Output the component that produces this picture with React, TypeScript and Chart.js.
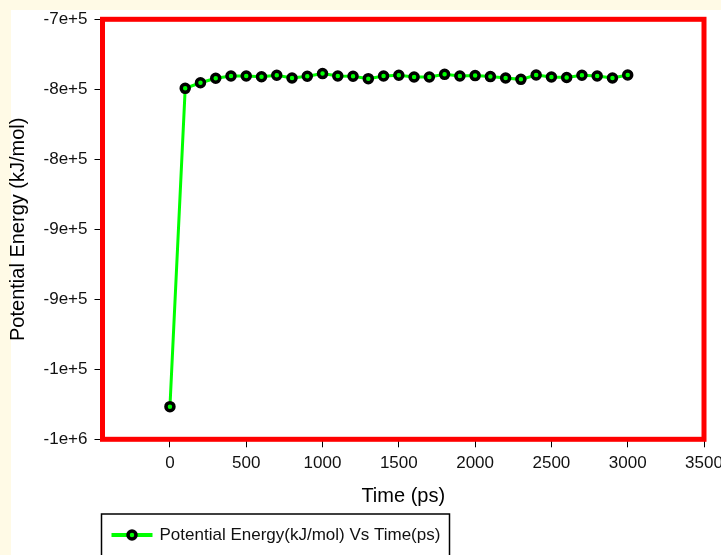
import React, { useEffect, useRef } from 'react';
import { Chart, registerables } from 'chart.js';

Chart.register(...registerables);

const timePs = [0, 100, 200, 300, 400, 500, 600, 700, 800, 900, 1000, 1100, 1200, 1300, 1400, 1500, 1600, 1700, 1800, 1900, 2000, 2100, 2200, 2300, 2400, 2500, 2600, 2700, 2800, 2900, 3000];
const potentialEnergy = [-976700, -749300, -745300, -742100, -740500, -740500, -741000, -740000, -741900, -740700, -738800, -740500, -740700, -742400, -740500, -740000, -741200, -741200, -739300, -740500, -740200, -740900, -741900, -742900, -739800, -741200, -741600, -740000, -740500, -741900, -739800];
const xTickValues = [0, 500, 1000, 1500, 2000, 2500, 3000, 3500];
const yTickValues = [-700000, -750000, -800000, -850000, -900000, -950000, -1000000];
const yTickLabels = ['-7e+5', '-8e+5', '-8e+5', '-9e+5', '-9e+5', '-1e+5', '-1e+6'];
const seriesLabel = 'Potential Energy(kJ/mol) Vs Time(ps)';
const xTitle = 'Time (ps)';
const yTitle = 'Potential Energy (kJ/mol)';

const FONT = "'Liberation Sans', Arial, sans-serif";
const GREEN = '#00FF00';

const decorPlugin = {
  id: 'decor',
  beforeDraw(chart: any) {
    const { ctx, width, height } = chart;
    ctx.save();
    ctx.fillStyle = '#FFFAE6';
    ctx.fillRect(0, 0, width, height);
    ctx.fillStyle = '#FFFFFF';
    ctx.fillRect(11, 10, width - 11, height - 10);
    ctx.restore();
  },
  beforeDatasetsDraw(chart: any) {
    const { ctx, chartArea } = chart;
    ctx.save();
    ctx.strokeStyle = '#FF0000';
    ctx.lineWidth = 5;
    ctx.strokeRect(chartArea.left, chartArea.top, chartArea.right - chartArea.left, chartArea.bottom - chartArea.top);
    ctx.restore();
  },
  afterDraw(chart: any) {
    const { ctx, chartArea } = chart;
    const bx = chartArea.left - 1;
    const by = 514;
    ctx.save();
    ctx.strokeStyle = '#000000';
    ctx.lineWidth = 1.5;
    ctx.strokeRect(bx, by, 348, 80);
    const cy = 535;
    ctx.strokeStyle = GREEN;
    ctx.lineWidth = 4;
    ctx.beginPath();
    ctx.moveTo(bx + 10, cy);
    ctx.lineTo(bx + 51, cy);
    ctx.stroke();
    ctx.beginPath();
    ctx.arc(bx + 30.5, cy, 4, 0, Math.PI * 2);
    ctx.fillStyle = GREEN;
    ctx.fill();
    ctx.strokeStyle = '#000000';
    ctx.lineWidth = 3.5;
    ctx.stroke();
    ctx.fillStyle = '#111111';
    ctx.font = `17px ${FONT}`;
    ctx.textBaseline = 'middle';
    ctx.textAlign = 'left';
    ctx.fillText(seriesLabel, bx + 58, cy);
    ctx.restore();
  },
};

export default function App() {
  const canvasRef = useRef<HTMLCanvasElement | null>(null);

  useEffect(() => {
    document.body.style.margin = '0';
    const canvas = canvasRef.current;
    if (!canvas) return;
    const chart = new Chart(canvas, {
      type: 'line',
      data: {
        datasets: [
          {
            label: seriesLabel,
            data: timePs.map((t, i) => ({ x: t, y: potentialEnergy[i] })),
            borderColor: GREEN,
            borderWidth: 3,
            backgroundColor: GREEN,
            pointBackgroundColor: GREEN,
            pointBorderColor: '#000000',
            pointBorderWidth: 3.5,
            pointRadius: 4,
            tension: 0,
          },
        ],
      },
      options: {
        animation: false,
        responsive: false,
        devicePixelRatio: 1,
        layout: { padding: { left: 0, top: 19.3, right: 17, bottom: 0 } },
        plugins: {
          legend: { display: false },
          tooltip: { enabled: false },
        },
        scales: {
          x: {
            type: 'linear',
            min: -442,
            max: 3500,
            afterBuildTicks: (scale: any) => {
              scale.ticks = xTickValues.map((v) => ({ value: v }));
            },
            afterFit: (scale: any) => {
              scale.height = 115.7;
              scale.paddingLeft = 0;
              scale.paddingRight = 0;
            },
            grid: {
              display: true,
              drawOnChartArea: false,
              drawTicks: true,
              tickLength: 8,
              tickColor: '#000000',
              tickWidth: 1,
            },
            border: { display: false },
            ticks: {
              color: '#111111',
              padding: 6,
              maxRotation: 0,
              autoSkip: false,
              font: { family: FONT, size: 17 },
              callback: (v: any) => String(v),
            },
            title: {
              display: true,
              text: xTitle,
              color: '#000000',
              font: { family: FONT, size: 20 },
              padding: { top: 0, bottom: 47 },
            },
          },
          y: {
            type: 'linear',
            min: -1000000,
            max: -700000,
            afterBuildTicks: (scale: any) => {
              scale.ticks = yTickValues.map((v) => ({ value: v }));
            },
            afterFit: (scale: any) => {
              scale.width = 102.5;
              scale.paddingTop = 0;
              scale.paddingBottom = 0;
            },
            grid: {
              display: true,
              drawOnChartArea: false,
              drawTicks: true,
              tickLength: 8,
              tickColor: '#000000',
              tickWidth: 1,
            },
            border: { display: false },
            ticks: {
              color: '#111111',
              padding: 7,
              autoSkip: false,
              font: { family: FONT, size: 17 },
              callback: (v: any) => {
                const idx = yTickValues.indexOf(Number(v));
                return idx >= 0 ? yTickLabels[idx] : '';
              },
            },
            title: {
              display: true,
              text: yTitle,
              color: '#000000',
              font: { family: FONT, size: 20 },
              padding: { top: 6.5, bottom: 0 },
            },
          },
        },
      },
      plugins: [decorPlugin],
    } as any);
    return () => chart.destroy();
  }, []);

  return (
    <div style={{ width: 721, height: 555 }}>
      <canvas ref={canvasRef} width={721} height={555} style={{ display: 'block' }} />
    </div>
  );
}
